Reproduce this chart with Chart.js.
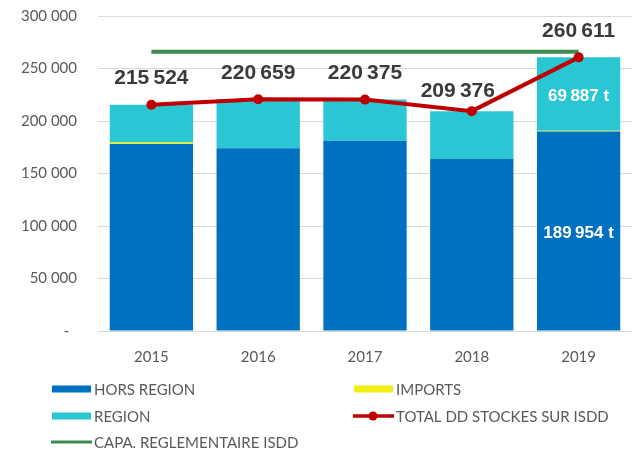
<!DOCTYPE html>
<html>
<head>
<meta charset="utf-8">
<script src="https://cdn.jsdelivr.net/npm/chart.js@4"></script>
<style>
  html, body { margin: 0; padding: 0; background: #fff; }
  #chart { display: block; }
</style>
</head>
<body>
<canvas id="chart" width="637" height="451"></canvas>
<script>
// chart data
const years = ['2015', '2016', '2017', '2018', '2019'];
const horsRegion = [178000, 174000, 181200, 163800, 189954];
const imports = [1500, 0, 0, 0, 770];
const region = [36024, 46659, 39175, 45576, 69887];
const totalStocks = [215524, 220659, 220375, 209376, 260611];
const capaIsdd = [266000, 266000, 266000, 266000, 266000];
const yTicks = [0, 50000, 100000, 150000, 200000, 250000, 300000];

const fmt = v => String(v).replace(/\B(?=(\d{3})+(?!\d))/g, '\u202f');
const grey = '#595959';

// labels above the red line + the two white labels in the 2019 bar
const labelsPlugin = {
    id: 'labels',
    afterDatasetsDraw(chart) {
        const ctx = chart.ctx;
        ctx.save();
        ctx.textAlign = 'center';
        ctx.textBaseline = 'middle';

        const totalMeta = chart.getDatasetMeta(3);
        ctx.font = 'bold 21px "Liberation Sans", Arial, sans-serif';
        ctx.fillStyle = '#3a3a3a';
        totalMeta.data.forEach((pt, i) => {
            const dx = i === 3 ? -14 : 0;
            const dy = i === 3 ? -20 : -26;
            ctx.fillText(fmt(totalStocks[i]), pt.x + dx, pt.y + dy);
        });

        ctx.font = 'bold 17px "Liberation Sans", Arial, sans-serif';
        ctx.fillStyle = '#ffffff';
        const last = years.length - 1;
        [[0, horsRegion], [2, region]].forEach(([idx, arr]) => {
            const bar = chart.getDatasetMeta(idx).data[last];
            ctx.fillText(fmt(arr[last]) + ' t', bar.x, (bar.y + bar.base) / 2 + 2);
        });
        ctx.restore();
    }
};

// legend laid out in two columns like the original
const legendPlugin = {
    id: 'customLegend',
    afterDraw(chart) {
        const ctx = chart.ctx;
        const ds = chart.data.datasets;
        const items = [
            { d: 0, x: 52, y: 389, kind: 'box' },
            { d: 1, x: 354, y: 389, kind: 'box' },
            { d: 2, x: 52, y: 416, kind: 'box' },
            { d: 3, x: 354, y: 416, kind: 'marker' },
            { d: 4, x: 52, y: 442, kind: 'line' }
        ];
        ctx.save();
        ctx.font = '15px Lato, sans-serif';
        ctx.textBaseline = 'middle';
        items.forEach(it => {
            const d = ds[it.d];
            if (it.kind === 'box') {
                ctx.fillStyle = d.backgroundColor;
                ctx.fillRect(it.x, it.y - 3.5, 39, 7);
            } else {
                ctx.strokeStyle = d.borderColor;
                ctx.lineWidth = it.kind === 'line' ? 3 : 3.5;
                ctx.beginPath();
                ctx.moveTo(it.x - 1, it.y);
                ctx.lineTo(it.x + 40, it.y);
                ctx.stroke();
                if (it.kind === 'marker') {
                    ctx.fillStyle = d.borderColor;
                    ctx.beginPath();
                    ctx.arc(it.x + 19, it.y, 4.5, 0, Math.PI * 2);
                    ctx.fill();
                }
            }
            ctx.fillStyle = grey;
            ctx.fillText(d.label, it.x + 42, it.y + 1);
        });
        ctx.restore();
    }
};

const ctx = document.getElementById('chart').getContext('2d');

new Chart(ctx, {
    type: 'bar',
    data: {
        labels: years,
        datasets: [
            {
                label: 'HORS REGION',
                data: horsRegion,
                backgroundColor: '#0070c0',
                stack: 'bars',
                order: 3
            },
            {
                label: 'IMPORTS',
                data: imports,
                backgroundColor: '#f0f014',
                stack: 'bars',
                order: 3
            },
            {
                label: 'REGION',
                data: region,
                backgroundColor: '#2bc6d3',
                stack: 'bars',
                order: 3
            },
            {
                type: 'line',
                label: 'TOTAL DD STOCKES SUR ISDD',
                data: totalStocks,
                borderColor: '#c00000',
                backgroundColor: '#c00000',
                borderWidth: 4,
                pointRadius: 5,
                pointBackgroundColor: '#c00000',
                pointBorderWidth: 0,
                tension: 0,
                stack: 'total',
                order: 0
            },
            {
                type: 'line',
                label: 'CAPA. REGLEMENTAIRE ISDD',
                data: capaIsdd,
                borderColor: '#3e8b4e',
                borderWidth: 4,
                pointRadius: 0,
                tension: 0,
                stack: 'capa',
                order: 1
            }
        ]
    },
    options: {
        responsive: false,
        animation: false,
        layout: { padding: { top: 16, right: 4, left: 0, bottom: 0 } },
        plugins: {
            legend: { display: false },
            tooltip: { enabled: false }
        },
        datasets: {
            bar: { categoryPercentage: 0.78, barPercentage: 1, borderWidth: 0 }
        },
        scales: {
            x: {
                stacked: true,
                grid: { display: false },
                border: { display: false },
                ticks: {
                    color: grey,
                    font: { family: 'Lato', size: 15 },
                    padding: 9
                },
                afterFit: s => { s.height = 120; }
            },
            y: {
                stacked: true,
                min: 0,
                max: 300000,
                afterBuildTicks: s => { s.ticks = yTicks.map(v => ({ value: v })); },
                grid: { color: '#d9d9d9', lineWidth: 1, drawTicks: false },
                border: { display: false },
                ticks: {
                    color: grey,
                    font: { family: 'Lato', size: 15 },
                    padding: 21,
                    callback: v => v === 0 ? '-  ' : fmt(v).replace(/\u202f/g, ' ')
                },
                afterFit: s => { s.width = 98; s.paddingTop = 0; s.paddingBottom = 0; }
            }
        }
    },
    plugins: [labelsPlugin, legendPlugin]
});
</script>
</body>
</html>
